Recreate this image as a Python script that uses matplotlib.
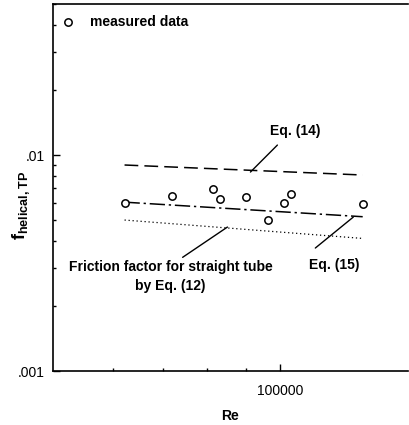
import matplotlib.pyplot as plt
import matplotlib.ticker as ticker
import numpy as np

plt.rcParams['font.family'] = ['Liberation Sans', 'DejaVu Sans']
plt.rcParams['mathtext.fontset'] = 'custom'
plt.rcParams['mathtext.bf'] = 'Liberation Sans:bold'
plt.rcParams['mathtext.rm'] = 'Liberation Sans'

# measured two-phase friction factors in the helical tube
re_data = [62200, 71800, 81500, 83100, 90100, 96200, 101000, 103400, 128500]
f_data = [0.00601, 0.00646, 0.00696, 0.00628, 0.00637, 0.00498, 0.00601, 0.00658, 0.00593]

# correlation curves, evaluated at the ends of the Re range
re_line = [62200, 128500]
f_eq14 = [0.00899, 0.00808]
f_eq15 = [0.00605, 0.00518]
f_eq12 = [0.00500, 0.00411]

fig = plt.figure(figsize=(4.1, 4.25), dpi=100)
ax = fig.add_axes([0.129, 0.127, 0.866, 0.8635])

ax.plot(re_line, f_eq14, color="black", lw=1.1, dashes=(9, 4))
ax.plot(re_line, f_eq15, color="black", lw=1.1, dashes=(10, 2.5, 1.5, 2.5))
ax.plot(re_line, f_eq12, color="black", lw=0.9, dashes=(1, 2.2))
ax.scatter(re_data, f_data, s=28, facecolors="white", edgecolors="black", linewidths=1.1, zorder=3)

ax.set_xscale("log")
ax.set_yscale("log")
ax.set_xlim(5e4, 1.475e5)
ax.set_ylim(0.001, 0.05)

ax.xaxis.set_major_locator(ticker.FixedLocator([1e5]))
ax.xaxis.set_major_formatter(ticker.FixedFormatter(["100000"]))
ax.xaxis.set_minor_locator(ticker.FixedLocator([6e4, 7e4, 8e4, 9e4]))
ax.xaxis.set_minor_formatter(ticker.NullFormatter())
ax.yaxis.set_major_locator(ticker.FixedLocator([0.001, 0.01]))
ax.yaxis.set_major_formatter(ticker.FixedFormatter([".001", ".01"]))
ax.yaxis.set_minor_locator(ticker.LogLocator(base=10, subs=np.arange(2, 10)))
ax.yaxis.set_minor_formatter(ticker.NullFormatter())

ax.tick_params(which="both", direction="in", labelsize=10, width=1)
ax.tick_params(axis="x", which="both", pad=9, top=False)
ax.tick_params(axis="y", which="both", pad=6, right=False)
ax.tick_params(which="major", length=5)
ax.tick_params(which="minor", length=2.5)
ax.spines["right"].set_visible(False)
for s in ["left", "bottom", "top"]:
    ax.spines[s].set_linewidth(1.2)

ax.set_xlabel("Re", fontsize=10, fontweight="bold", labelpad=8)
ax.set_ylabel(r"$\mathbf{f_{helical,TP}}$", fontsize=13)
ax.yaxis.set_label_coords(-0.058, 0.452)

# legend entry in the upper left corner
ax.scatter([0.043], [0.951], s=28, facecolors="white", edgecolors="black", linewidths=1.1,
           transform=ax.transAxes, clip_on=False)
ax.text(0.105, 0.951, "measured data", transform=ax.transAxes, fontsize=10,
        fontweight="bold", va="center", ha="left")

arrow = dict(arrowstyle="-", color="black", lw=1.0, shrinkA=0, shrinkB=0)
ax.text(104670, 0.01291, "Eq. (14)", fontsize=10, fontweight="bold", ha="center", va="center")
ax.annotate("", xy=(91280, 0.00834), xytext=(99090, 0.01112), arrowprops=arrow)
ax.text(117800, 0.00310, "Eq. (15)", fontsize=10, fontweight="bold", ha="center", va="center")
ax.annotate("", xy=(124870, 0.00516), xytext=(111230, 0.00371), arrowprops=arrow)
ax.text(71550, 0.00327, "Friction factor for straight tube\nby Eq. (12)",
        fontsize=10, fontweight="bold", ha="center", va="top", linespacing=1.45)
ax.annotate("", xy=(85100, 0.00464), xytext=(74240, 0.00336), arrowprops=arrow)

fig.savefig("out.png", dpi=100)
